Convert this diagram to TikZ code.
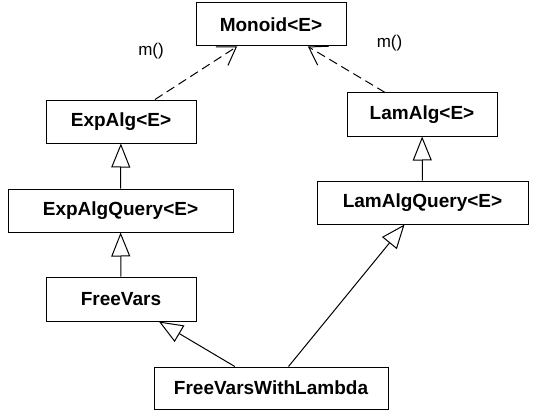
\documentclass[tikz,border=0pt]{standalone}
\usepackage{fontspec}
\setmainfont{Liberation Sans}
\usetikzlibrary{arrows.meta}

\begin{document}
\begin{tikzpicture}[x=1pt, y=-1pt,
		cls/.style={draw, line width=1pt, inner sep=0pt, minimum height=43pt, font=\fontsize{19}{22}\selectfont\bfseries},
		inherit/.style={line width=1pt, -{Triangle[open, length=24pt, width=19pt]}},
		uses/.style={line width=1pt, dash pattern=on 9pt off 5pt, -{Straight Barb[length=17pt, width=22pt]}},
		lbl/.style={font=\fontsize{17}{20}\selectfont}]
				\useasboundingbox (0,0) rectangle (533,412);
				\node[cls, minimum width=150pt] (monoid) at (271,24.5) {Monoid<E>};
				\node[cls, minimum width=150pt] (expalg) at (121,121.5) {ExpAlg<E>};
				\node[cls, minimum width=150pt] (lamalg) at (422,114.5) {LamAlg<E>};
				\node[cls, minimum width=225pt] (expquery) at (120.5,210.5) {ExpAlgQuery<E>};
				\node[cls, minimum width=211pt] (lamquery) at (422.5,202.5) {LamAlgQuery<E>};
				\node[cls, minimum width=150pt, minimum height=44pt] (freevars) at (121,299) {FreeVars};
				\node[cls, minimum width=234pt, minimum height=42pt] (freelam) at (271,388) {FreeVarsWithLambda};
				
				\draw[uses] (expalg) -- (monoid);
				\draw[uses] (lamalg) -- (monoid);
				\node[lbl] (mleft) at (151,51) {m()};
				\node[lbl] (mright) at (389.5,43) {m()};
				
				\draw[inherit] (expquery) -- (expalg);
				\draw[inherit] (freevars) -- (expquery);
				\draw[inherit] (lamquery) -- (lamalg);
				\draw[inherit] (freelam) -- (freevars);
				\draw[inherit] (freelam) -- (lamquery);
			\end{tikzpicture}
\end{document}
